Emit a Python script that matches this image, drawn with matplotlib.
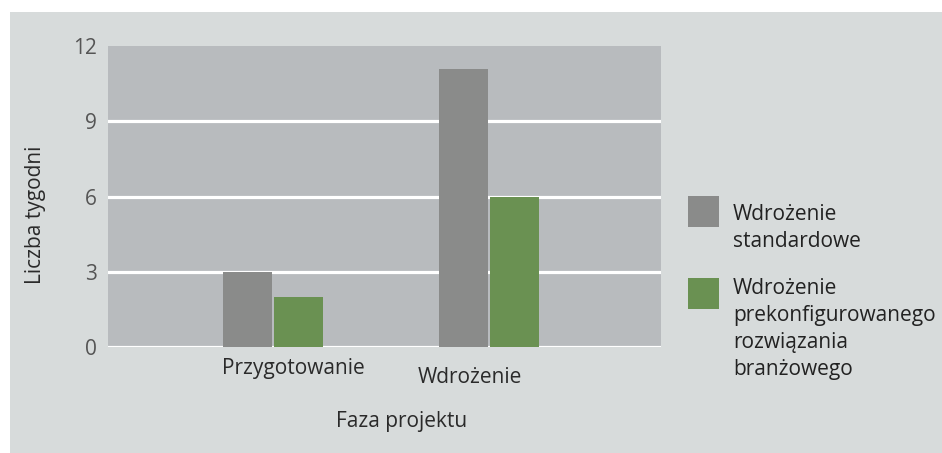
import matplotlib.pyplot as plt
from matplotlib.patches import Rectangle
import numpy as np

plt.rcParams['font.family'] = ['Open Sans', 'DejaVu Sans']

phases = ["Przygotowanie", "Wdrożenie"]
standard = [3.0, 11.1]
preconfigured = [2.0, 6.0]
series_names = ["Wdrożenie\nstandardowe",
                "Wdrożenie\nprekonfigurowanego\nrozwiązania\nbranżowego"]
yticks = [0, 3, 6, 9, 12]

W, H = 942, 453
fig = plt.figure(figsize=(W / 100, H / 100), dpi=100, facecolor='white')

# light gray panel behind everything (white strip on top and left)
fig.patches.append(Rectangle((10 / W, 0), 1, 1 - 12 / H, transform=fig.transFigure,
                             facecolor='#d7dbdb', edgecolor='none', zorder=-10))

ax = fig.add_axes([108 / W, 1 - 347 / H, (661 - 108) / W, (347 - 46) / H])
ax.set_facecolor('#b8bbbe')

x = np.arange(len(phases))
w = 0.227
ax.bar(x - 0.117, standard, w, color='#8a8b8a', zorder=3)
ax.bar(x + 0.12, preconfigured, w, color='#6a9152', zorder=3)

ax.set_xlim(-0.764, 1.796)
ax.set_ylim(0, 12)
ax.set_yticks(yticks)
ax.set_yticklabels([str(t) for t in yticks], color='#555555', fontsize=15)
for t in yticks[:-1]:
    ax.axhline(t, color='white', lw=2.3, zorder=2)
ax.tick_params(axis='y', length=0, pad=8)
ax.set_xticks([])
for s in ax.spines.values():
    s.set_visible(False)

# category labels (slightly offset as in the original)
ax.text(0.093, -0.45, phases[0], ha='center', va='top', fontsize=15, color='#2a2a2a')
ax.text(0.912, -0.8, phases[1], ha='center', va='top', fontsize=15, color='#2a2a2a')

fig.text(35 / W, 1 - 215 / H, "Liczba tygodni", rotation=90, ha='center', va='center',
         fontsize=15, color='#2a2a2a')
fig.text(402 / W, 1 - 421 / H, "Faza projektu", ha='center', va='center',
         fontsize=15, color='#2a2a2a')

# legend drawn by hand; text anchored on the baseline of its last line
colors = ['#8a8b8a', '#6a9152']
tops = [196, 278]
last_baselines = [247, 375]
for c, name, top, base in zip(colors, series_names, tops, last_baselines):
    fig.patches.append(Rectangle((688 / W, 1 - (top + 31) / H), 31 / W, 31 / H,
                                 transform=fig.transFigure, facecolor=c, edgecolor='none'))
    fig.text(733 / W, 1 - base / H, name, ha='left', va='baseline', fontsize=15,
             color='#222222', linespacing=1.37)

fig.savefig('out.png', dpi=100, facecolor=fig.get_facecolor())
